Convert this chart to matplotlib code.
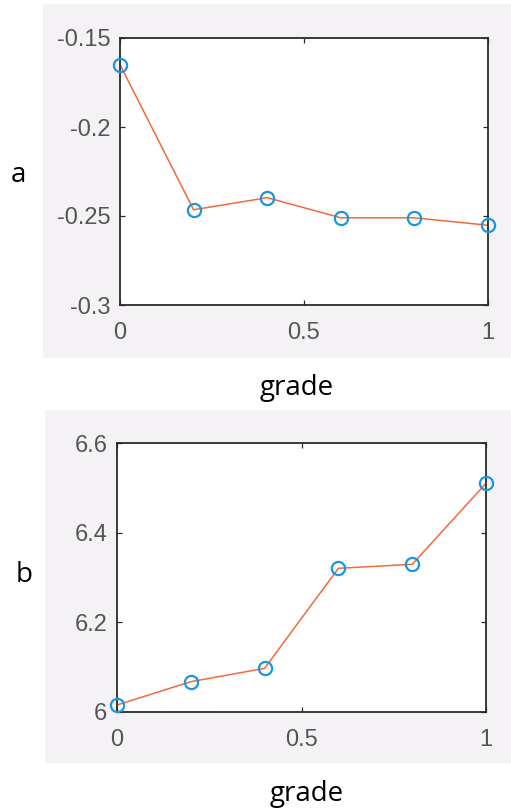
import matplotlib
matplotlib.use("Agg")
import matplotlib.pyplot as plt
from matplotlib.patches import Rectangle

# grade values and the two fitted parameters
grade = [0, 0.2, 0.4, 0.6, 0.8, 1.0]
a_vals = [-0.165, -0.2465, -0.2397, -0.251, -0.251, -0.2552]
b_vals = [6.0156, 6.0676, 6.0974, 6.3205, 6.3294, 6.510]

a_ticks = [-0.3, -0.25, -0.2, -0.15]
a_labels = ["-0.3", "-0.25", "-0.2", "-0.15"]
b_ticks = [6, 6.2, 6.4, 6.6]
b_labels = ["6", "6.2", "6.4", "6.6"]
x_ticks = [0, 0.5, 1]
x_labels = ["0", "0.5", "1"]

W, H = 511, 811
fig = plt.figure(figsize=(W / 100, H / 100), dpi=100)
fig.patch.set_facecolor("white")

def px_rect(x0, y0, x1, y1):
    # pixel box (top-left origin) -> figure fraction [l, b, w, h]
    return [x0 / W, (H - y1) / H, (x1 - x0) / W, (y1 - y0) / H]

bg = "#f5f2f6"
for box in [(43, 4, 511, 358), (45, 410, 511, 763)]:
    l, b, w, h = px_rect(*box)
    fig.add_artist(Rectangle((l, b), w, h, transform=fig.transFigure,
                             facecolor=bg, edgecolor="none", zorder=0))

line_c = "#f26a3c"
mark_c = "#1a96dc"
tick_c = "#555555"


def panel(box, y, ylim, yt, ytl):
    ax = fig.add_axes(px_rect(*box))
    ax.plot(grade, y, "-", color=line_c, lw=1.1, zorder=2)
    ax.plot(grade, y, "o", mfc="none", mec=mark_c, ms=9.5, mew=1.6,
            zorder=3, clip_on=False)
    ax.set_xlim(0, 1)
    ax.set_ylim(*ylim)
    ax.set_xticks(x_ticks)
    ax.set_xticklabels(x_labels)
    ax.set_yticks(yt)
    ax.set_yticklabels(ytl)
    for s in ax.spines.values():
        s.set_color("#2a2a2a")
        s.set_linewidth(1.3)
    ax.tick_params(direction="in", length=3.5, width=0.9, color="#2a2a2a",
                   top=True, right=True, labelsize=17, labelcolor=tick_c,
                   labelfontfamily="Liberation Sans")
    ax.tick_params(axis="x", pad=12)
    ax.tick_params(axis="y", pad=7)
    return ax


panel((120, 38, 488, 305), a_vals, (-0.3, -0.15), a_ticks, a_labels)
panel((117, 443, 486, 712), b_vals, (6, 6.6), b_ticks, b_labels)

lab = dict(fontsize=20, family="Open Sans", color="black",
           ha="center", va="center")
fig.text(18 / W, 1 - 175 / H, "a", **lab)
fig.text(24 / W, 1 - 575 / H, "b", **lab)
fig.text(297 / W, 1 - 388 / H, "grade", **lab)
fig.text(307 / W, 1 - 794 / H, "grade", **lab)

fig.savefig("out.png", dpi=100)
